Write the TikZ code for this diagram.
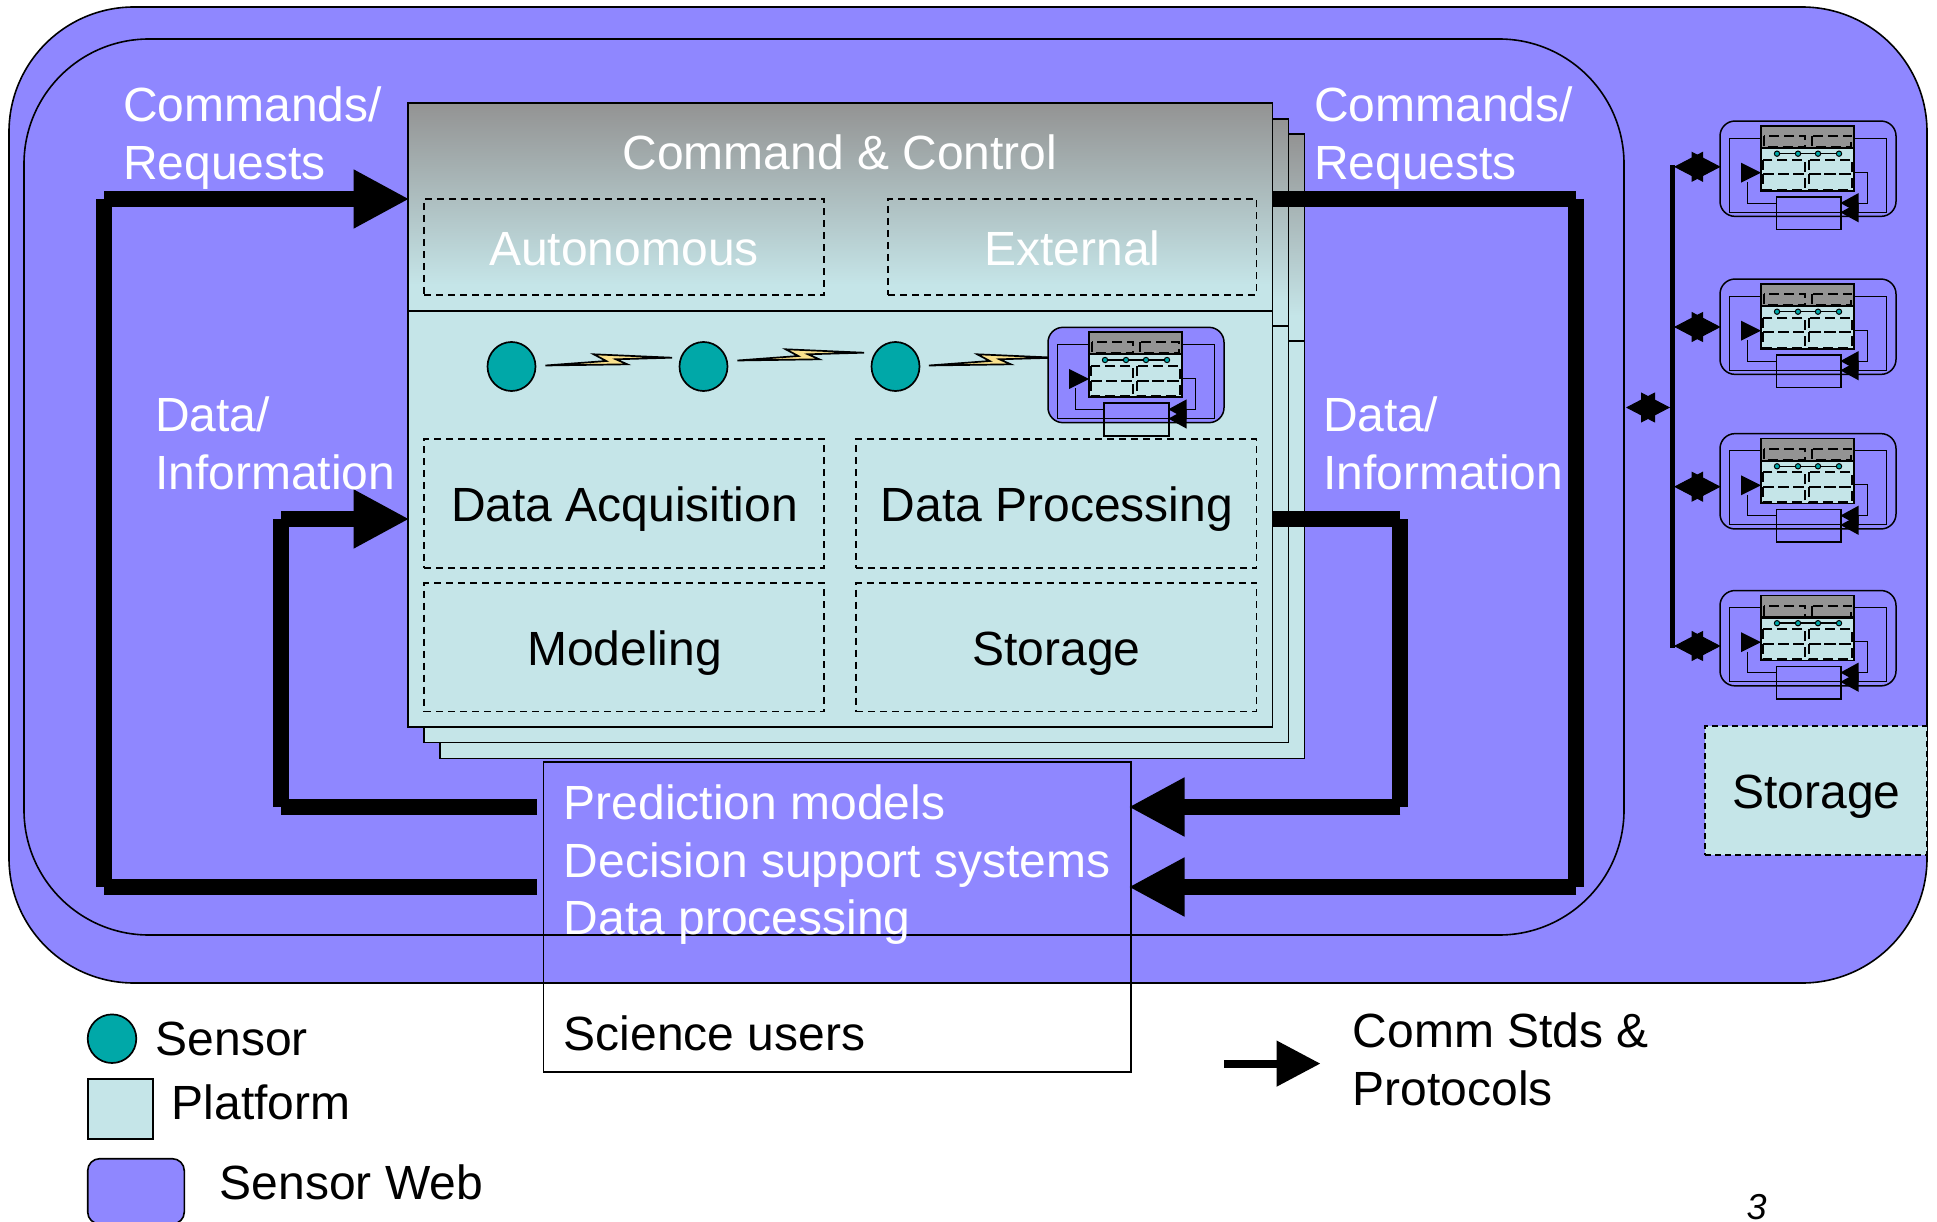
\documentclass[tikz,border=0pt]{standalone}
\usepackage{fontspec}
\setmainfont{Liberation Sans}
\usetikzlibrary{arrows.meta,calc,shapes.geometric}
\definecolor{web}{RGB}{143,135,255}
\definecolor{plat}{RGB}{197,229,232}
\definecolor{sens}{RGB}{0,168,168}
\definecolor{ctl}{RGB}{147,147,147}
\definecolor{bolt}{RGB}{250,225,140}
\newcommand\bx[6][]{%
  \pgfmathsetmacro\bxw{#5-#3}\pgfmathsetmacro\bxh{#6-#4}%
  \node[inner sep=0pt,outer sep=0pt,minimum width=\bxw pt,minimum height=\bxh pt,anchor=north west,#1] (#2) at (#3,#4) {};}
\newcommand\bolt[2]{%
  \begin{scope}[shift={(#1,#2)}]
    \draw[boltshape] (545.4,365.5) -- (606.3,361) -- (593.7,354.3) -- (672,357.7) -- (615.9,359.3) -- (627.3,364.3) -- cycle;
  \end{scope}}
\newcommand\minipic[2]{%
  \begin{scope}[shift={(#1,#2)},x=0.33333pt,y=-0.33333pt]
    \draw[line width=1.5pt,fill=web,rounded corners=15pt] (84,52) rectangle (612,338);
    \draw[line width=1pt] (207,103) -- (111,103) -- (111,326) -- (583,326) -- (583,103) -- (485,103);
    \fill[ctl] (207,67) rectangle (485,133);
    \fill[plat] (207,133) rectangle (485,262);
    \draw[minidash] (215,97) rectangle (340,130);
    \draw[minidash] (360,97) rectangle (478,130);
    \draw[minidash] (212,168) rectangle (340,212);
    \draw[minidash] (350,168) rectangle (480,212);
    \draw[minidash] (212,212) rectangle (340,258);
    \draw[minidash] (350,212) rectangle (480,258);
    \draw[line width=1.7pt] (207,67) rectangle (485,262);
    \draw[line width=2.2pt] (207,133) -- (485,133);
    \draw[line width=1.6pt] (255,150) -- (441,150);
    \foreach \u in {255,318,378,441} \draw[line width=1pt,fill=sens] (\u,150) circle[radius=8];
    \draw[line width=1pt] (167,235) -- (167,298) -- (253,298);
    \fill (207,207) -- (147,177) -- (147,237) -- cycle;
    \draw[line width=1pt] (485,205) -- (527,205) -- (527,298) -- (495,298);
    \draw[line width=1.7pt] (253,280) rectangle (446,377);
    \fill (445,298) -- (500,268) -- (500,328) -- cycle;
    \fill (445,326) -- (500,296) -- (500,356) -- cycle;
  \end{scope}}
\tikzset{
  every node/.style={font=\fontsize{48}{57.5}\selectfont},
  wline/.style={draw=black,line width=1.6pt},
  stackbox/.style={wline,fill=plat},
  dashbox/.style={draw=black,line width=1.8pt,dash pattern=on 7pt off 5pt},
  minidash/.style={line width=2pt,dash pattern=on 10pt off 5pt},
  boltshape/.style={line width=1.7pt,fill=bolt,line join=miter},
  bigline/.style={line width=16pt},
  bigarrow/.style={line width=16pt,-{Triangle[length=56pt,width=55pt]}},
  bus/.style={line width=1pt,{Triangle[length=29pt,width=30pt]}-{Triangle[length=29pt,width=30pt]}},
  wt/.style={text=white,anchor=base west,inner sep=0pt,align=left},
  bt/.style={text=black,anchor=base west,inner sep=0pt,align=left},
  wc/.style={text=white,anchor=base,inner sep=0pt},
  bc/.style={text=black,anchor=base,inner sep=0pt},
  sensornode/.style={draw=black,line width=1.7pt,fill=sens,ellipse,inner sep=0pt,minimum width=48pt,minimum height=49pt},
}
\begin{document}
\begin{tikzpicture}[x=1pt,y=-1pt]
\useasboundingbox (0,0) rectangle (1937,1222);
% webs
\bx[wline,fill=web,rounded corners=125pt]{outer}{9}{7}{1927}{983}
\bx[wline,rounded corners=125pt]{inner}{24}{39}{1624}{935}
% stacks
\foreach \n/\lx/\sx/\sy/\ey in {st3/440/1304.5/134/758.5,st2/424/1288.5/119/742.5}{
  \pgfmathsetmacro\mid{\sy+207}
  \pgfmathsetmacro\gr{\sy+182}
  \bx[stackbox]{\n}{\lx}{\sy}{\sx}{\ey}
  \shade[top color=ctl,bottom color=plat,middle color=ctl!50!plat] (\lx,\sy) rectangle (\sx,\gr);
  \draw[wline] (\lx,\sy) rectangle (\sx,\ey);
  \draw[wline] (\lx,\mid) -- (\sx,\mid);
}
\bx[stackbox]{cc}{408}{103}{1272.5}{727}
\shade[top color=ctl,bottom color=plat,middle color=ctl!50!plat] (408,103) rectangle (1272.5,285);
\draw[wline] (408,103) rectangle (1272.5,727);
\coordinate (div) at (408,311);
\draw[wline] (div) -- (div -| cc.east);
% dashed groups
\bx[dashbox]{auto}{424}{199}{824}{295}
\bx[dashbox]{ext}{888}{199}{1256.5}{295}
\bx[dashbox]{acq}{424}{439}{824}{568}
\bx[dashbox]{proc}{856}{439}{1256.5}{568}
\bx[dashbox]{model}{424}{583}{824}{711.5}
\bx[dashbox]{stor}{856}{583}{1256.5}{711.5}
\node[wc] (tcc) at (840,170) {Command \& Control};
\node[wc] (tauto) at (624,266) {Autonomous};
\node[wc] (text) at (1072.5,266) {External};
\node[bc] (tacq) at (624.5,521) {Data Acquisition};
\node[bc] (tproc) at (1057,521) {Data Processing};
\node[bc] (tmodel) at (624.5,665) {Modeling};
\node[bc] (tstor) at (1056.5,665) {Storage};
% sensors in a chain
\node[sensornode] (s1) at (511.5,366.5) {};
\node[sensornode] (s2) at (703.5,366.5) {};
\node[sensornode] (s3) at (895.5,366.5) {};
\bolt{0}{0}\bolt{192}{-5}\bolt{383.5}{0}
\minipic{1020}{310}
% science box
\bx[wline]{sci}{543.5}{762}{1131}{1072}
\node[wt] (t1) at (563.5,819) {Prediction models};
\node[wt] (t2) at (563.5,877) {Decision support systems};
\node[wt] (t3) at (563.5,934) {Data processing};
\node[bt] (t4) at (563.5,1050) {Science users};
% main loops (square-ended segments, as the corners are not joined)
\coordinate (la) at (537,886.5);
\coordinate (lb) at (104.2,886.5);
\coordinate (lc) at (104.2,199);
\draw[bigline] (la) -- (lb);
\draw[bigline] (lb) -- (lc);
\draw[bigarrow] (lc) -- ([xshift=1.5pt]lc -| cc.west);
\coordinate (ma) at (537,807);
\coordinate (mb) at (281,807);
\coordinate (mc) at (281,519);
\draw[bigline] (ma) -- (mb);
\draw[bigline] (mb) -- (mc);
\draw[bigarrow] (mc) -- ([xshift=1.5pt]mc -| cc.west);
\coordinate (ra) at (1576.3,199);
\coordinate (rb) at (1576.3,887);
\draw[bigline] (ra -| cc.east) -- (ra);
\draw[bigline] (ra) -- (rb);
\draw[bigarrow] (rb) -- ([xshift=-2.5pt]rb -| sci.east);
\coordinate (qa) at (1400.3,519);
\coordinate (qb) at (1400.3,807);
\draw[bigline] (qa -| cc.east) -- (qa);
\draw[bigline] (qa) -- (qb);
\draw[bigarrow] (qb) -- ([xshift=-2.5pt]qb -| sci.east);
% labels
\node[wt] (c1) at (123,122) {Commands/};
\node[wt] (c2) at (123,180) {Requests};
\node[wt] (c3) at (1314,122) {Commands/};
\node[wt] (c4) at (1314,180) {Requests};
\node[wt] (d1) at (155,431) {Data/};
\node[wt] (d2) at (155,489) {Information};
\node[wt] (d3) at (1323,431) {Data/};
\node[wt] (d4) at (1323,489) {Information};
% bus
\coordinate (bt) at (1672.5,165);
\coordinate (bb) at (1672.5,648);
\draw[line width=5pt] (bt) -- (bb);
\foreach \n/\y in {1/166.8,2/327,3/486.7,4/646}{
  \coordinate (a\n) at (1674,\y);
  \coordinate (e\n) at (1720.6,\y);
  \draw[bus] (a\n) -- (e\n);
}
\coordinate (a0) at (1626,407.5);
\coordinate (e0) at (1670,407.5);
\draw[bus] (a0) -- (e0);
\minipic{1692}{103.7}
\minipic{1692}{261.7}
\minipic{1692}{416.3}
\minipic{1692}{573.2}
% storage
\bx[wline,fill=plat,dash pattern=on 6pt off 4pt]{web-stor}{1705}{726}{1927}{855}
\node[bc] (tws) at (1816.5,808.5) {Storage};
% legend
\node[sensornode,minimum width=48.6pt,minimum height=48.6pt] (ls) at (112,1038.7) {};
\node[bt] (lst) at (155.5,1055.5) {Sensor};
\bx[wline,fill=plat]{lp}{87.7}{1078.7}{152.7}{1138.7}
\node[bt] (lpt) at (171.5,1119) {Platform};
\bx[wline,fill=web,rounded corners=12pt]{lw}{87.7}{1158.7}{184.3}{1224}
\node[bt] (lwt) at (219.5,1199) {Sensor Web};
\coordinate (ka) at (1224,1063.6);
\coordinate (kb) at (1320.5,1063.6);
\draw[line width=8pt,-{Triangle[length=44pt,width=44pt]}] (ka) -- (kb);
\node[bt] (k1) at (1352.5,1047.5) {Comm Stds \&};
\node[bt] (k2) at (1352.5,1105.5) {Protocols};
\node[anchor=base,inner sep=0pt,font=\fontsize{36}{36}\selectfont\itshape] (pg) at (1756.5,1219.5) {3};
\end{tikzpicture}
\end{document}
